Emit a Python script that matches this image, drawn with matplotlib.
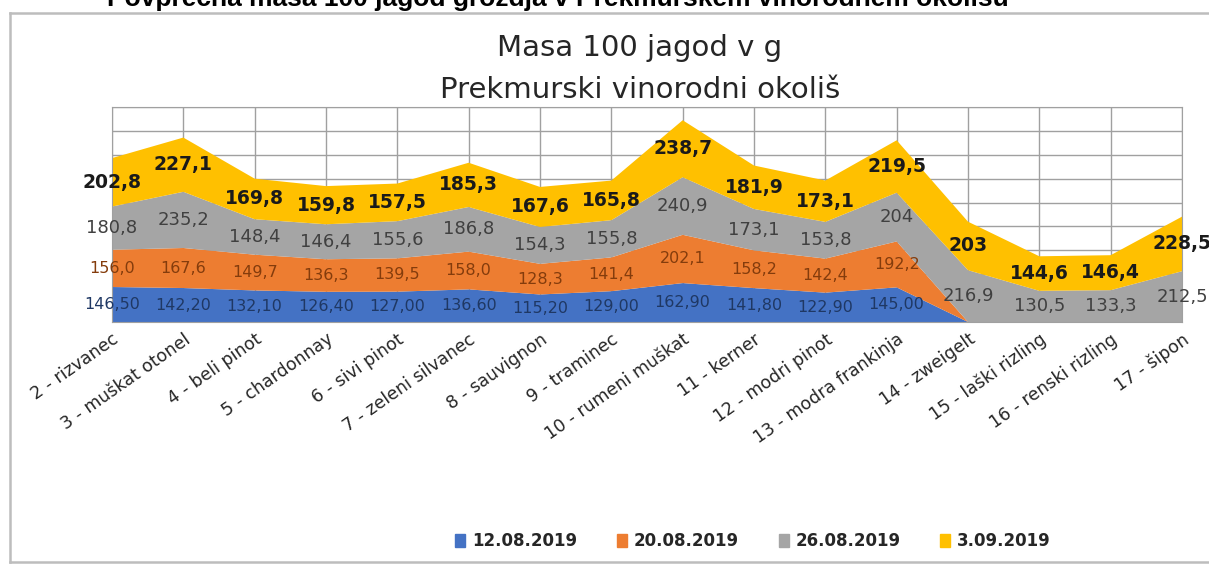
import matplotlib
matplotlib.use('Agg')
import matplotlib.pyplot as plt
import matplotlib.patches as mpatches
from matplotlib.lines import Line2D
import numpy as np

# sorte (kategorije)
sorte = ['2 - rizvanec', '3 - muškat otonel', '4 - beli pinot', '5 - chardonnay',
         '6 - sivi pinot', '7 - zeleni silvanec', '8 - sauvignon', '9 - traminec',
         '10 - rumeni muškat', '11 - kerner', '12 - modri pinot', '13 - modra frankinja',
         '14 - zweigelt', '15 - laški rizling', '16 - renski rizling', '17 - šipon']

# masa 100 jagod v g po datumih vzorčenja
d_12_08 = [146.5, 142.2, 132.1, 126.4, 127.0, 136.6, 115.2, 129.0,
           162.9, 141.8, 122.9, 145.0, np.nan, np.nan, np.nan, np.nan]
d_20_08 = [156.0, 167.6, 149.7, 136.3, 139.5, 158.0, 128.3, 141.4,
           202.1, 158.2, 142.4, 192.2, np.nan, np.nan, np.nan, np.nan]
d_26_08 = [180.8, 235.2, 148.4, 146.4, 155.6, 186.8, 154.3, 155.8,
           240.9, 173.1, 153.8, 204.0, 216.9, 130.5, 133.3, 212.5]
d_03_09 = [202.8, 227.1, 169.8, 159.8, 157.5, 185.3, 167.6, 165.8,
           238.7, 181.9, 173.1, 219.5, 203.0, 144.6, 146.4, 228.5]

datumi = ['12.08.2019', '20.08.2019', '26.08.2019', '3.09.2019']

barve = ['#4472C4', '#ED7D31', '#A5A5A5', '#FFC000']
barve_oznak = ['#1F3864', '#843C0C', '#404040', '#1a1a1a']


def fmt_general(v):
    s = ('%.1f' % v).rstrip('0').rstrip('.')
    return s.replace('.', ',')


formati = [lambda v: ('%.2f' % v).replace('.', ','),
           lambda v: ('%.1f' % v).replace('.', ','),
           fmt_general,
           fmt_general]
velikosti = [11.5, 11.5, 13, 13.5]

plt.rcParams['font.family'] = ['DejaVu Sans']
fig = plt.figure(figsize=(12.09, 5.65), dpi=100)

# okvir grafikona (levo, zgoraj, spodaj)
L, T, B = 10 / 1209, 1 - 13 / 565, 3 / 565
for xs, ys in [([L, L], [B, T]), ([L, 1.0], [T, T]), ([L, 1.0], [B, B])]:
    fig.add_artist(Line2D(xs, ys, transform=fig.transFigure, color='#BDBDBD', linewidth=1.8))

# odrezan naslov na vrhu
fig.text(107 / 1209, 1 - 6 / 565, 'Povprečna masa 100 jagod grozdja v Prekmurskem vinorodnem okolišu',
         family='Liberation Sans', fontweight='bold', fontsize=19, ha='left', va='baseline')

ax = fig.add_axes([112 / 1209, 1 - 322 / 565, 1070 / 1209, 215 / 565])

x = np.arange(len(sorte))
serije = [np.nan_to_num(np.array(s, dtype=float)) for s in [d_12_08, d_20_08, d_26_08, d_03_09]]
ax.stackplot(x, *serije, colors=barve, zorder=2)

ax.set_xlim(0, len(sorte) - 1)
ax.set_ylim(0, 900)
ax.set_yticks(np.arange(0, 901, 100))
ax.set_yticklabels([])
ax.set_xticks(x)
ax.set_xticklabels(sorte, rotation=35, ha='right', rotation_mode='anchor',
                   fontsize=12.5, color='#262626')
ax.tick_params(length=0, pad=6)
ax.grid(True, color='#A0A0A0', linewidth=1, zorder=0)
ax.set_axisbelow(True)
for sp in ax.spines.values():
    sp.set_color('#A0A0A0')

# oznake podatkov
spodaj = np.zeros(len(sorte))
raw = [d_12_08, d_20_08, d_26_08, d_03_09]
for i, s in enumerate(serije):
    for j in range(len(sorte)):
        v = raw[i][j]
        if not np.isnan(v):
            ax.text(x[j], spodaj[j] + s[j] / 2, formati[i](v), ha='center', va='center',
                    fontsize=velikosti[i],
                    fontweight='bold' if i == 3 else 'normal',
                    color=barve_oznak[i], zorder=5, clip_on=False)
    spodaj = spodaj + s

fig.text(640 / 1209, 1 - 48 / 565, 'Masa 100 jagod v g', ha='center', va='center',
         fontsize=21, color='#262626')
fig.text(640 / 1209, 1 - 90 / 565, 'Prekmurski vinorodni okoliš', ha='center', va='center',
         fontsize=21, color='#262626')

rocaji = [mpatches.Patch(color=c) for c in barve]
leg = fig.legend(rocaji, datumi, loc='center', bbox_to_anchor=(753 / 1209, 1 - 541 / 565),
                 ncol=4, frameon=False, handlelength=0.6, handleheight=0.8,
                 handletextpad=0.4, columnspacing=2.4,
                 prop={'weight': 'bold', 'size': 12})
for t in leg.get_texts():
    t.set_color('#262626')

plt.savefig('out.png', dpi=100)
